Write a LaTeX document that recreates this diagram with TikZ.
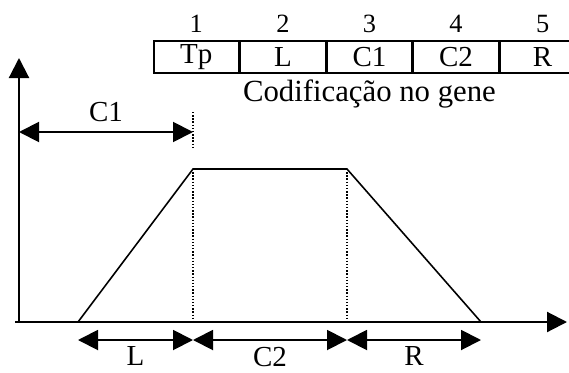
\documentclass[tikz,border=0pt]{standalone}
\usepackage{fontspec}
\setmainfont{Liberation Serif}
\usetikzlibrary{arrows.meta,positioning}
\tikzset{
  genecell/.style={draw,line width=0.9pt,minimum width=1.7cm,minimum height=0.64cm,inner sep=0pt,font=\fontsize{16.5}{16.5}\selectfont},
  genenum/.style={font=\fontsize{15}{15}\selectfont,inner sep=1pt},
  dimlabel/.style={font=\fontsize{16.5}{16.5}\selectfont},
  axis/.style={line width=1.2pt},
  dimline/.style={line width=1.1pt,<->},
  guide/.style={densely dotted,line width=0.8pt}
}
\begin{document}
\begin{tikzpicture}[>={Triangle[length=0.4cm,width=0.4cm]}]
            \useasboundingbox (-0.38,-1.0) rectangle (11.0,6.44);
            % eixos
            \coordinate (orig) at (0,0);
            \coordinate (xstart) at (-0.08,0);
            \coordinate (xtip) at (10.96,0);
            \coordinate (ytip) at (0,5.28);
            \draw[axis,->] (orig) -- (ytip);
            \draw[axis,->] (xstart) -- (xtip);
            % trapezio
            \coordinate (base1) at (1.18,0);
            \coordinate (top1) at (3.48,3.06);
            \coordinate (top2) at (6.56,3.06);
            \coordinate (base2) at (9.24,0);
            \draw[line width=0.9pt] (base1) -- (top1) -- (top2) -- (base2);
            \draw[guide] (top1) -- (3.48,0);
            \draw[guide] (top2) -- (6.56,0);
            % C1
            \coordinate (c1left) at (0,3.8);
            \coordinate (c1right) at (3.48,3.8);
            \coordinate (c1top) at (3.48,4.2);
            \coordinate (c1bot) at (3.48,3.48);
            \draw[guide] (c1top) -- (c1bot);
            \draw[dimline] (c1left) -- node[dimlabel,above=2pt] (lblc1) {C1} (c1right);
            % L, C2, R
            \coordinate (dim0) at (1.18,-0.36);
            \coordinate (dim1) at (3.48,-0.36);
            \coordinate (dim2) at (6.56,-0.36);
            \coordinate (dim3) at (9.24,-0.36);
            \draw[dimline] (dim0) -- node[dimlabel,below=0pt] (lbll) {L} (dim1);
            \draw[dimline] (dim1) -- node[dimlabel,below=0pt] (lblc2) {C2} (dim2);
            \draw[dimline] (dim2) -- node[dimlabel,below=0pt] (lblr) {R} (dim3);
            % gene
            \node[genecell,anchor=west] (gene1) at (2.68,5.30) {Tp};
            \node[genecell,right=0pt of gene1] (gene2) {L};
            \node[genecell,right=0pt of gene2] (gene3) {C1};
            \node[genecell,right=0pt of gene3] (gene4) {C2};
            \node[genecell,right=0pt of gene4] (gene5) {R};
            \node[genenum,above=3pt of gene1] (num1) {1};
            \node[genenum,above=3pt of gene2] (num2) {2};
            \node[genenum,above=3pt of gene3] (num3) {3};
            \node[genenum,above=3pt of gene4] (num4) {4};
            \node[genenum,above=3pt of gene5] (num5) {5};
            \node[below=0pt of gene3,font=\fontsize{17.5}{17.5}\selectfont] (caption) {Codificação no gene};
        \end{tikzpicture}
\end{document}
